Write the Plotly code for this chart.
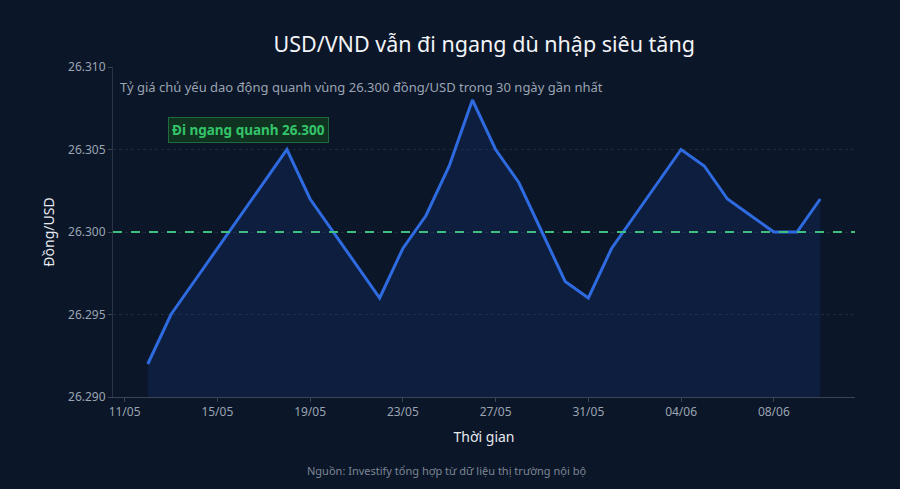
import pandas as pd
import plotly.graph_objects as go

# Tỷ giá USD/VND 30 ngày gần nhất (đồng/USD)
ngay = pd.date_range("2025-05-12", "2025-06-10", freq="D")
ty_gia = [26292, 26295, 26297, 26299, 26301, 26303, 26305, 26302, 26300, 26298,
          26296, 26299, 26301, 26304, 26308, 26305, 26303, 26300, 26297, 26296,
          26299, 26301, 26303, 26305, 26304, 26302, 26301, 26300, 26300, 26302]
muc_ngang = 26300

nen = "#0b1628"
chu_xam = "#9aa4b2"

fig = go.Figure()

fig.add_trace(go.Scatter(
    x=ngay, y=ty_gia, mode="lines",
    line=dict(color="#2f6be0", width=3),
    fill="tozeroy", fillcolor="rgba(30,64,150,0.2)",
    hoverinfo="skip", showlegend=False,
))

# đường tham chiếu 26.300
fig.add_hline(y=muc_ngang, line=dict(color="#3fbf7f", width=2, dash="dash"))

fig.update_layout(
    width=900, height=489,
    paper_bgcolor=nen, plot_bgcolor=nen,
    separators=",.",
    font=dict(family="Noto Sans", color="#d0d6de", size=12),
    margin=dict(l=113, r=45, t=67, b=92),
    title=dict(text="USD/VND vẫn đi ngang dù nhập siêu tăng",
               x=0.538, xanchor="center", y=0.91, yanchor="middle",
               font=dict(size=21.5, color="#f2f4f7")),
)

fig.update_xaxes(
    range=["2025-05-10 12:00", "2025-06-11 12:00"],
    tick0="2025-05-11", dtick=4 * 86400000, tickformat="%d/%m",
    showgrid=False, showline=True, linecolor="#3a4556",
    ticks="outside", ticklen=4, tickcolor="#3a4556",
    tickfont=dict(color=chu_xam, size=12),
    title=dict(text="Thời gian", font=dict(size=14, color="#e6e9ee"), standoff=12),
)

fig.update_yaxes(
    range=[26290, 26310], dtick=5, tickformat=",d",
    showgrid=True, gridcolor="#1f2a3c", griddash="dot", zeroline=False,
    showline=True, linecolor="#2a3446",
    ticks="outside", ticklen=4, tickcolor="#3a4556",
    tickfont=dict(color=chu_xam, size=12),
    title=dict(text="Đồng/USD", font=dict(size=14, color="#e6e9ee"), standoff=10),
)

fig.add_annotation(
    text="Tỷ giá chủ yếu dao động quanh vùng 26.300 đồng/USD trong 30 ngày gần nhất",
    xref="paper", yref="paper", x=0.007, y=0.972, xanchor="left", yanchor="top",
    showarrow=False, font=dict(size=13, color=chu_xam),
)

fig.add_annotation(
    text="<b>Đi ngang quanh 26.300</b>",
    xref="x", yref="y", x="2025-05-16 08:00", y=26306.2,
    showarrow=False, font=dict(size=13.5, color="#34c46a"),
    bgcolor="#0f3320", bordercolor="#1f6b3c", borderwidth=1, borderpad=3,
)

fig.add_annotation(
    text="Nguồn: Investify tổng hợp từ dữ liệu thị trường nội bộ",
    xref="paper", yref="paper", x=0.45, y=-0.222, xanchor="center", yanchor="middle",
    showarrow=False, font=dict(size=11, color="#7d8795"),
)

# bỏ viền trắng của trang, ẩn thanh công cụ
fig.write_html("out.html", config={"displayModeBar": False},
               post_script="document.body.style.margin='0';document.body.style.background='#0b1628';")
